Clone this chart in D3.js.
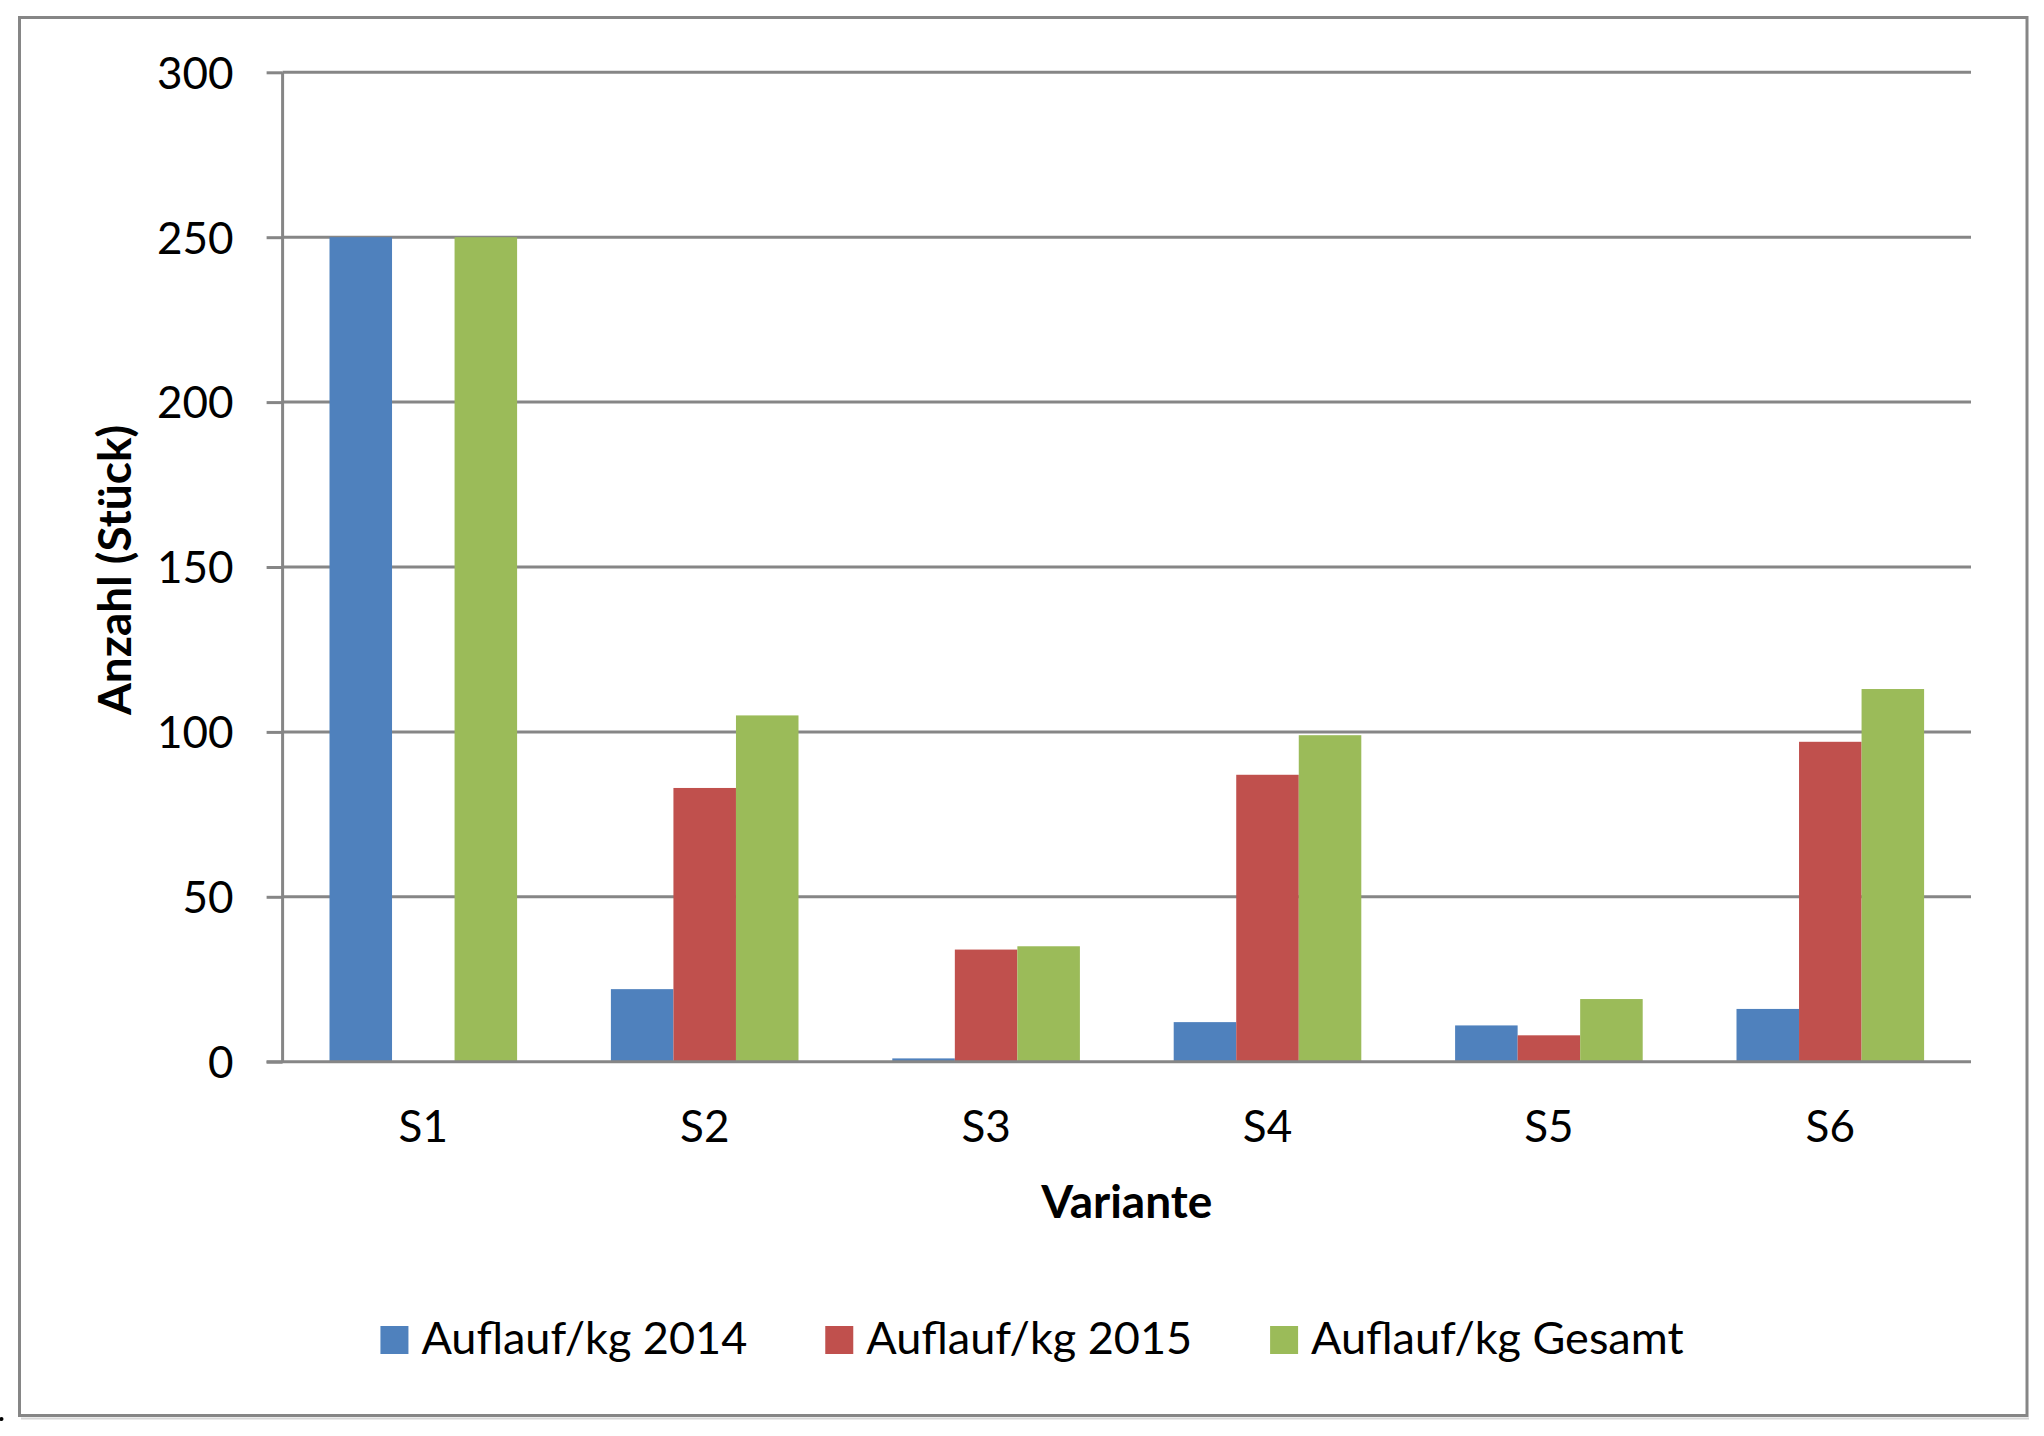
<!DOCTYPE html>
<html>
<head>
<meta charset="utf-8">
<script src="https://cdn.jsdelivr.net/npm/d3@7"></script>
<style>
  html, body { margin: 0; padding: 0; background: #ffffff; }
  svg { display: block; }
  text { font-family: Lato, "Open Sans", sans-serif; fill: #000; }
</style>
</head>
<body>
<script>
const categories = ["S1", "S2", "S3", "S4", "S5", "S6"];
const series2014 = [250, 22, 1, 12, 11, 16];
const series2015 = [0, 83, 34, 87, 8, 97];
const seriesGesamt = [250, 105, 35, 99, 19, 113];
const seriesNames = ["Auflauf/kg 2014", "Auflauf/kg 2015", "Auflauf/kg Gesamt"];
const seriesColors = ["#4F81BD", "#C0504D", "#9BBB59"];
const yTicks = [0, 50, 100, 150, 200, 250, 300];
const xTitle = "Variante";
const yTitle = "Anzahl (Stück)";

const W = 2044, H = 1436;
const plot = { left: 282.6, right: 1971, top: 72.3, bottom: 1061.7 };
const gridColor = "#868686";

const svg = d3.select("body").append("svg").attr("width", W).attr("height", H);

// outer frame
svg.append("rect")
  .attr("x", 19.5).attr("y", 17.5)
  .attr("width", 2027 - 19.5).attr("height", 1415.5 - 17.5)
  .attr("fill", "#fff").attr("stroke", gridColor).attr("stroke-width", 3);
svg.append("line").attr("x1", 21).attr("x2", 2029).attr("y1", 1418.5).attr("y2", 1418.5)
  .attr("stroke", "#d6d6d6").attr("stroke-width", 2);
svg.append("circle").attr("cx", 1.5).attr("cy", 1419).attr("r", 2).attr("fill", "#000");

const x0 = d3.scaleBand().domain(categories).range([plot.left, plot.right]).paddingInner(0).paddingOuter(0);
const bw = x0.bandwidth();
const barW = bw / 4.5;
const x1 = d3.scaleBand().domain([0, 1, 2]).range([0.75 * barW, 3.75 * barW]).padding(0);
const y = d3.scaleLinear().domain([0, 300]).range([plot.bottom, plot.top]);

// y axis ticks and labels
const yAxis = d3.axisLeft(y).tickValues(yTicks).tickSize(16).tickPadding(33).tickFormat(d3.format("d"));
const gAxis = svg.append("g").attr("transform", `translate(${plot.left},0)`).call(yAxis);
gAxis.select(".domain").remove();
gAxis.selectAll(".tick line").attr("stroke", gridColor).attr("stroke-width", 3);
gAxis.selectAll(".tick text").attr("font-size", 44).attr("font-family", "Lato").attr("fill", "#000").attr("dy", "0.36em");

// gridlines
svg.append("g").selectAll("line").data(yTicks.filter(d => d !== 0)).join("line")
  .attr("x1", plot.left).attr("x2", plot.right)
  .attr("y1", d => y(d)).attr("y2", d => y(d))
  .attr("stroke", gridColor).attr("stroke-width", 3);

// bars
const allSeries = [series2014, series2015, seriesGesamt];
const gBars = svg.append("g");
allSeries.forEach((vals, si) => {
  gBars.selectAll(null).data(vals.map((v, i) => ({ cat: categories[i], v }))).join("rect")
    .attr("x", d => x0(d.cat) + x1(si))
    .attr("width", x1.bandwidth())
    .attr("y", d => y(d.v))
    .attr("height", d => y(0) - y(d.v))
    .attr("fill", seriesColors[si]);
});

// axis lines
svg.append("line").attr("x1", plot.left).attr("x2", plot.left).attr("y1", plot.top).attr("y2", plot.bottom)
  .attr("stroke", gridColor).attr("stroke-width", 3);
svg.append("line").attr("x1", plot.left - 16).attr("x2", plot.right).attr("y1", y(0)).attr("y2", y(0))
  .attr("stroke", gridColor).attr("stroke-width", 3);

// x labels
const xAxis = d3.axisBottom(x0).tickSize(0).tickPadding(0);
const gx = svg.append("g").attr("transform", `translate(0,${plot.bottom})`).call(xAxis);
gx.select(".domain").remove();
gx.selectAll(".tick text").attr("font-size", 44).attr("font-family", "Lato").attr("fill", "#000")
  .attr("y", 1141.7 - plot.bottom).attr("dy", 0);

// titles
svg.append("text").attr("x", (plot.left + plot.right) / 2).attr("y", 1218)
  .attr("text-anchor", "middle").attr("font-size", 46).attr("font-weight", "bold").text(xTitle);
svg.append("text").attr("transform", `translate(131,${(plot.top + plot.bottom) / 2 + 3}) rotate(-90)`)
  .attr("text-anchor", "middle").attr("font-size", 46).attr("font-weight", "bold").text(yTitle);

// legend
const legend = svg.append("g");
const sq = 28, gap = 13, itemGap = 78;
const items = seriesNames.map((name, i) => {
  const g = legend.append("g");
  g.append("rect").attr("width", sq).attr("height", sq).attr("y", -sq).attr("fill", seriesColors[i]);
  const t = g.append("text").attr("x", sq + gap).attr("y", 0).attr("font-size", 45).text(name);
  return { g, w: sq + gap + t.node().getComputedTextLength() };
});
const total = d3.sum(items, d => d.w) + itemGap * (items.length - 1);
let cx = 1032 - total / 2;
items.forEach(it => { it.g.attr("transform", `translate(${cx},1354)`); cx += it.w + itemGap; });
</script>
</body>
</html>
